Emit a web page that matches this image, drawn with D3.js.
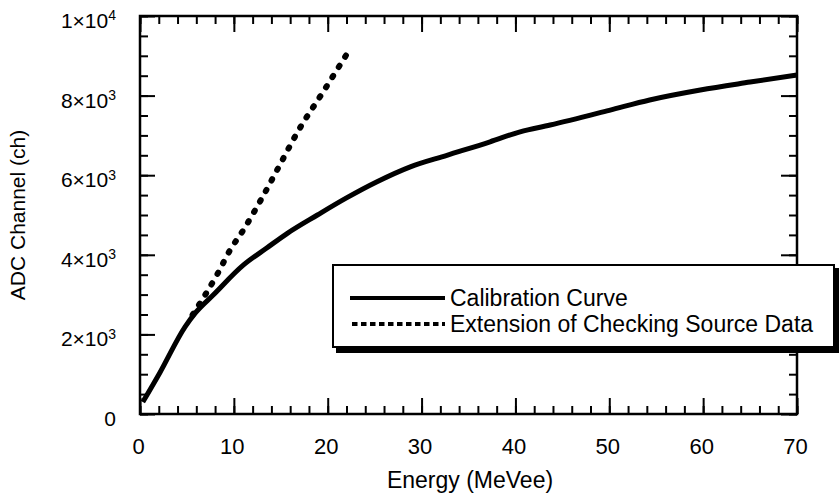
<!DOCTYPE html>
<html>
<head>
<meta charset="utf-8">
<script src="https://cdn.jsdelivr.net/npm/d3@7"></script>
<style>
  body { margin: 0; background: #fff; }
  svg { display: block; font-family: "Liberation Sans", Arial, Helvetica, sans-serif; }
</style>
</head>
<body>
<svg id="chart" width="840" height="504"></svg>
<script>
// ---- data ----
const calEnergy = [0.3, 2.1, 4.8, 5.9, 7.8, 11, 13.5, 15.7, 18.9, 22, 25.2, 28.8, 32.7, 37.3, 40.5, 43.7, 50, 54.3, 59.7, 65, 70];
const calChannel = [300, 1030, 2190, 2540, 2990, 3740, 4170, 4540, 5000, 5430, 5830, 6210, 6500, 6840, 7090, 7260, 7630, 7890, 8140, 8340, 8520];
const extEnergy = [5.6, 8.3, 9.6, 11, 13, 14.9, 16.8, 19.5, 22];
const extChannel = [2490, 3540, 4120, 4620, 5430, 6260, 7090, 8090, 9030];
const xMajorTicks = [0, 10, 20, 30, 40, 50, 60, 70];
const yMajorTicks = [0, 2000, 4000, 6000, 8000, 10000];
const yTickLabels = [["0", ""], ["2×10", "3"], ["4×10", "3"], ["6×10", "3"], ["8×10", "3"], ["1×10", "4"]];
const legendLabels = ["Calibration Curve", "Extension of Checking Source Data"];
const xTitle = "Energy (MeVee)";
const yTitle = "ADC Channel (ch)";

// ---- layout ----
const L = 140, R = 797, T = 16, B = 414;
const svg = d3.select("#chart");
const x = d3.scaleLinear().domain([0, 70]).range([L, R]);
const y = d3.scaleLinear().domain([0, 10000]).range([B, T]);
const xMinor = d3.range(0, 70.001, 2);
const yMinor = d3.range(0, 10000.1, 500);

function styleAxis(g) {
  g.select(".domain").remove();
  g.selectAll(".tick line").attr("stroke", "#000").attr("stroke-width", 2);
}

// minor ticks
svg.append("g").attr("transform", `translate(0,${B})`)
  .call(d3.axisBottom(x).tickValues(xMinor).tickSize(-8).tickFormat("")).call(styleAxis);
svg.append("g").attr("transform", `translate(0,${T})`)
  .call(d3.axisTop(x).tickValues(xMinor).tickSize(-8).tickFormat("")).call(styleAxis);
svg.append("g").attr("transform", `translate(${L},0)`)
  .call(d3.axisLeft(y).tickValues(yMinor).tickSize(-8).tickFormat("")).call(styleAxis);
svg.append("g").attr("transform", `translate(${R},0)`)
  .call(d3.axisRight(y).tickValues(yMinor).tickSize(-8).tickFormat("")).call(styleAxis);

// major ticks
const xb = svg.append("g").attr("transform", `translate(0,${B})`)
  .call(d3.axisBottom(x).tickValues(xMajorTicks).tickSize(-16).tickPadding(24).tickFormat(d3.format("d")));
xb.call(styleAxis);
xb.selectAll("text").attr("font-size", 22).attr("fill", "#000").attr("font-family", "Liberation Sans, Arial, sans-serif").attr("dx", -2);
svg.append("g").attr("transform", `translate(0,${T})`)
  .call(d3.axisTop(x).tickValues(xMajorTicks).tickSize(-16).tickFormat("")).call(styleAxis);
const yl = svg.append("g").attr("transform", `translate(${L},0)`)
  .call(d3.axisLeft(y).tickValues(yMajorTicks).tickSize(-15).tickPadding(24));
yl.call(styleAxis);
yl.selectAll("text").each(function(d, i) {
  const t = d3.select(this);
  t.text(null).attr("font-size", 21).attr("fill", "#000").attr("dy", "0.55em")
   .attr("font-family", "Liberation Sans, Arial, sans-serif");
  t.append("tspan").text(yTickLabels[i][0]);
  if (yTickLabels[i][1]) t.append("tspan").attr("dy", "-0.55em").attr("font-size", 14).text(yTickLabels[i][1]);
});
svg.append("g").attr("transform", `translate(${R},0)`)
  .call(d3.axisRight(y).tickValues(yMajorTicks).tickSize(-16).tickFormat("")).call(styleAxis);

// frame
svg.append("rect").attr("x", L).attr("y", T).attr("width", R - L).attr("height", B - T)
  .attr("fill", "none").attr("stroke", "#000").attr("stroke-width", 2.5);

// lines
const calData = calEnergy.map((e, i) => [e, calChannel[i]]);
const extData = extEnergy.map((e, i) => [e, extChannel[i]]);
const line = d3.line().x(d => x(d[0])).y(d => y(d[1])).curve(d3.curveMonotoneX);

svg.append("path").datum(extData).attr("d", line)
  .attr("fill", "none").attr("stroke", "#000").attr("stroke-width", 6)
  .attr("stroke-linecap", "round").attr("stroke-dasharray", "1.5 10.5");
svg.append("path").datum(calData).attr("d", line)
  .attr("fill", "none").attr("stroke", "#000").attr("stroke-width", 5)
  .attr("stroke-linejoin", "round");

// legend
const lg = svg.append("g");
lg.append("rect").attr("x", 336).attr("y", 268).attr("width", 503).attr("height", 85).attr("fill", "#000");
lg.append("rect").attr("x", 333).attr("y", 265).attr("width", 501).attr("height", 82)
  .attr("fill", "#fff").attr("stroke", "#000").attr("stroke-width", 2);
const legY = [298, 324];
lg.append("line").attr("x1", 350).attr("x2", 445).attr("y1", legY[0]).attr("y2", legY[0])
  .attr("stroke", "#000").attr("stroke-width", 4);
lg.append("line").attr("x1", 352).attr("x2", 445).attr("y1", legY[1]).attr("y2", legY[1])
  .attr("stroke", "#000").attr("stroke-width", 4).attr("stroke-dasharray", "5.5 3.5");
legendLabels.forEach((t, i) => {
  lg.append("text").attr("x", 450).attr("y", legY[i]).attr("dy", "0.36em")
    .attr("font-size", 23).attr("fill", "#000").text(t);
});

// titles
svg.append("text").attr("x", 470).attr("y", 488).attr("text-anchor", "middle")
  .attr("font-size", 23).attr("fill", "#000").text(xTitle);
svg.append("text").attr("transform", "translate(25,215) rotate(-90)").attr("text-anchor", "middle")
  .attr("font-size", 21).attr("fill", "#000").text(yTitle);
</script>
</body>
</html>
